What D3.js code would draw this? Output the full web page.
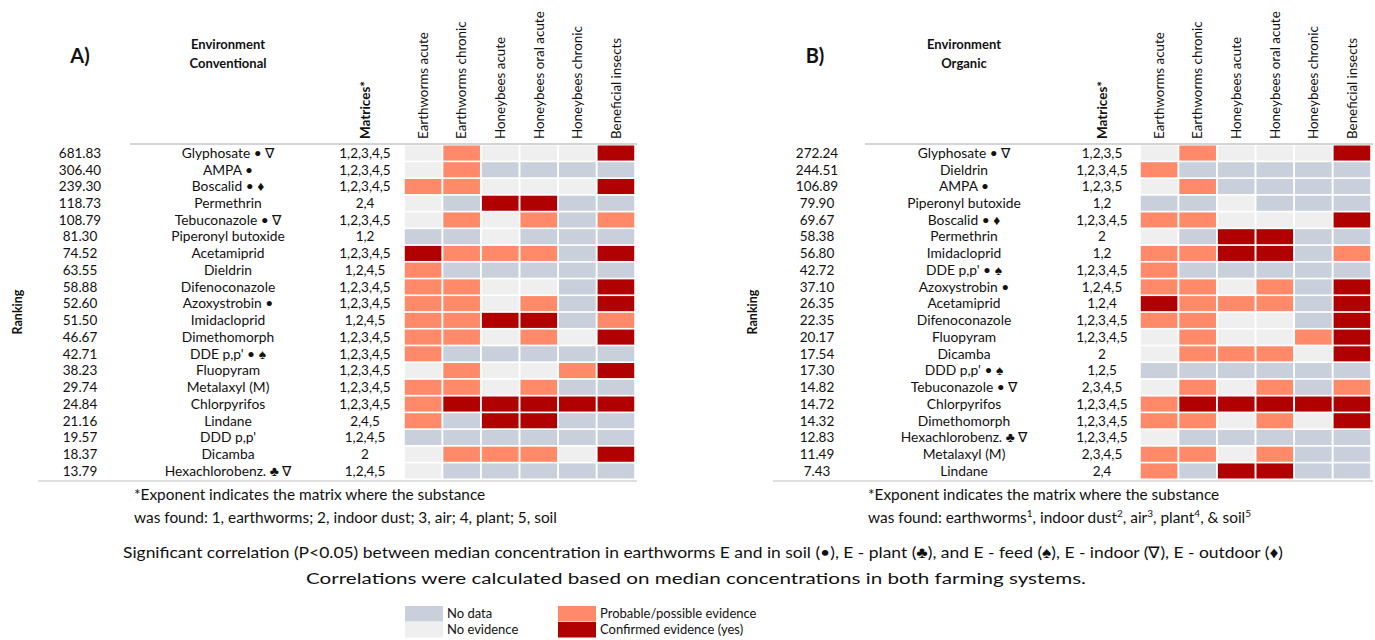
<!DOCTYPE html>
<html><head><meta charset="utf-8">
<script src="https://cdn.jsdelivr.net/npm/d3@7"></script>
<style>body{margin:0;background:#fff}svg{display:block}text{font-family:Lato,"Open Sans",sans-serif;fill:#111}</style>
</head><body>
<svg id="chart" width="1375" height="640"></svg>
<script>
const columns = ["Earthworms acute","Earthworms chronic","Honeybees acute","Honeybees oral acute","Honeybees chronic","Beneficial insects"];

const rankA = [681.83,306.40,239.30,118.73,108.79,81.30,74.52,63.55,58.88,52.60,51.50,46.67,42.71,38.23,29.74,24.84,21.16,19.57,18.37,13.79];
const namesA = ["Glyphosate • ∇","AMPA •","Boscalid • ♦","Permethrin","Tebuconazole • ∇","Piperonyl butoxide","Acetamiprid","Dieldrin","Difenoconazole","Azoxystrobin •","Imidacloprid","Dimethomorph","DDE p,p' • ♠","Fluopyram","Metalaxyl (M)","Chlorpyrifos","Lindane","DDD p,p'","Dicamba","Hexachlorobenz. ♣ ∇"];
const matricesA = ["1,2,3,4,5","1,2,3,4,5","1,2,3,4,5","2,4","1,2,3,4,5","1,2","1,2,3,4,5","1,2,4,5","1,2,3,4,5","1,2,3,4,5","1,2,4,5","1,2,3,4,5","1,2,3,4,5","1,2,3,4,5","1,2,3,4,5","1,2,3,4,5","2,4,5","1,2,4,5","2","1,2,4,5"];
// N = no evidence, D = no data, P = probable/possible, C = confirmed
const evidenceA = ["NPNNNC","NPDDDD","PPNNNC","NDCCDD","NPNPDP","DDNDDD","CPPPDC","PDDDDD","PPNNDC","PPNPDC","PPCCDP","PPNPNC","PDDDDD","NPNNPC","PPNPDD","PCCCCC","PDCCDD","DDDDDD","NPPPNC","NDDDDD"];

const rankB = [272.24,244.51,106.89,79.90,69.67,58.38,56.80,42.72,37.10,26.35,22.35,20.17,17.54,17.30,14.82,14.72,14.32,12.83,11.49,7.43];
const namesB = ["Glyphosate • ∇","Dieldrin","AMPA •","Piperonyl butoxide","Boscalid • ♦","Permethrin","Imidacloprid","DDE p,p' • ♠","Azoxystrobin •","Acetamiprid","Difenoconazole","Fluopyram","Dicamba","DDD p,p' • ♠","Tebuconazole • ∇","Chlorpyrifos","Dimethomorph","Hexachlorobenz. ♣ ∇","Metalaxyl (M)","Lindane"];
const matricesB = ["1,2,3,5","1,2,3,4,5","1,2,3,5","1,2","1,2,3,4,5","2","1,2","1,2,3,4,5","1,2,4,5","1,2,4","1,2,3,4,5","1,2,3,4,5","2","1,2,5","2,3,4,5","1,2,3,4,5","1,2,3,4,5","1,2,3,4,5","2,3,4,5","2,4"];
const evidenceB = ["NPNNNC","PDDDDD","NPDDDD","DDNDDD","PPNNNC","NDCCDD","PPCCDP","PDDDDD","PPNPDC","CPPPDC","PPNNDC","NPNNPC","NPPPNC","DDDDDD","NPNPDP","PCCCCC","PPNPNC","NDDDDD","PPNPDD","PDCCDD"];

const legendCodes = ["D","N","P","C"];
const legendLabels = ["No data","No evidence","Probable/possible evidence","Confirmed evidence (yes)"];

const color = d3.scaleOrdinal().domain(["D","N","P","C"]).range(["#c9d0dc","#efefef","#ff8a6a","#b00000"]);

const svg = d3.select("#chart");

function panel(cfg){
  const g = svg.append("g");
  const n = cfg.names.length;
  const x = d3.scaleBand().domain(columns).range([cfg.gx0, cfg.gx1]).paddingInner(0.05).paddingOuter(0.02);
  const y = d3.scaleBand().domain(d3.range(n)).range([cfg.gy0, cfg.gy1]).paddingInner(0.1).paddingOuter(0.03);

  // title
  g.append("text").attr("x",cfg.labelX).attr("y",63).attr("text-anchor","middle")
    .style("font-size","20px").style("font-weight","bold").text(cfg.label);
  g.append("text").attr("x",cfg.nameX).attr("y",49).attr("text-anchor","middle")
    .style("font-size","13px").style("font-weight","bold").text("Environment");
  g.append("text").attr("x",cfg.nameX).attr("y",68).attr("text-anchor","middle")
    .style("font-size","13px").style("font-weight","bold").text(cfg.system);
  g.append("text").attr("transform",`translate(${cfg.matX+5},139) rotate(-90)`)
    .style("font-size","13.5px").style("font-weight","bold").text("Matrices*");
  // column headers
  g.selectAll(".colh").data(columns).join("text")
    .attr("transform",d=>`translate(${x(d)+x.bandwidth()/2+4.8},139) rotate(-90)`)
    .style("font-size","13.4px").text(d=>d);
  // Ranking
  g.append("text").attr("transform",`translate(${cfg.rankingX},${(cfg.gy0+cfg.gy1)/2}) rotate(-90)`)
    .attr("text-anchor","middle").style("font-size","12.5px").style("font-weight","bold").text("Ranking");

  // lines
  g.append("line").attr("x1",cfg.topLineX).attr("x2",cfg.gx1+2).attr("y1",cfg.gy0-1).attr("y2",cfg.gy0-1)
    .attr("stroke","#d4d4d4").attr("stroke-width",2);
  g.append("line").attr("x1",cfg.botLineX).attr("x2",cfg.gx1+2).attr("y1",cfg.gy1+2).attr("y2",cfg.gy1+2)
    .attr("stroke","#d4d4d4").attr("stroke-width",1.5);

  // rows
  const rows = d3.range(n);
  const ty = i => y(i)+y.bandwidth()/2+4.8;
  g.selectAll(".rk").data(rows).join("text").attr("x",cfg.rankX).attr("y",ty)
    .attr("text-anchor","middle").style("font-size","13.5px").text(i=>cfg.ranks[i].toFixed(2));
  g.selectAll(".nm").data(rows).join("text").attr("x",cfg.nameX).attr("y",ty)
    .attr("text-anchor","middle").style("font-size","13.8px").text(i=>cfg.names[i]);
  g.selectAll(".mx").data(rows).join("text").attr("x",cfg.matX).attr("y",ty)
    .attr("text-anchor","middle").style("font-size","13.5px").text(i=>cfg.matrices[i]);

  // cells
  const cells = [];
  rows.forEach(i=>columns.forEach((c,j)=>cells.push({i,c,v:cfg.evidence[i][j]})));
  g.selectAll(".cell").data(cells).join("rect")
    .attr("x",d=>x(d.c)).attr("y",d=>y(d.i)).attr("width",x.bandwidth()).attr("height",y.bandwidth())
    .attr("fill",d=>color(d.v));

  // footnote
  g.append("text").attr("x",cfg.footX).attr("y",500).style("font-size","15.4px")
    .text("*Exponent indicates the matrix where the substance");
  const f2 = g.append("text").attr("x",cfg.footX).attr("y",523).style("font-size","15.4px");
  cfg.foot2(f2);
}

panel({label:"A)", system:"Conventional", labelX:80, nameX:228, matX:365, rankX:80, rankingX:22,
  gx0:404, gx1:635, gy0:145, gy1:479, topLineX:130, botLineX:38, footX:134,
  ranks:rankA, names:namesA, matrices:matricesA, evidence:evidenceA,
  foot2: t=>t.text("was found: 1, earthworms; 2, indoor dust; 3, air; 4, plant; 5, soil")});

panel({label:"B)", system:"Organic", labelX:815, nameX:964, matX:1102, rankX:817, rankingX:757,
  gx0:1140, gx1:1371, gy0:145, gy1:479, topLineX:865, botLineX:773, footX:868,
  ranks:rankB, names:namesB, matrices:matricesB, evidence:evidenceB,
  foot2: t=>{
    const parts = [["was found: earthworms",""],["1","s"],[", indoor dust",""],["2","s"],[", air",""],["3","s"],[", plant",""],["4","s"],[", & soil",""],["5","s"]];
    parts.forEach(p=>{
      const ts = t.append("tspan").text(p[0]);
      if(p[1]==="s"){ ts.attr("dy",-6).style("font-size","10px"); }
      else if(t.selectAll("tspan").size()>1){ ts.attr("dy",6); }
    });
  }});

// bottom notes
svg.append("text").attr("x",703).attr("y",558).attr("text-anchor","middle")
  .attr("textLength",1160).attr("lengthAdjust","spacingAndGlyphs").style("font-size","16px")
  .text("Significant correlation (P<0.05) between median concentration in earthworms E and in soil (•), E - plant (♣),  and E - feed (♠), E - indoor (∇), E - outdoor (♦)");
svg.append("text").attr("x",696).attr("y",584).attr("text-anchor","middle")
  .attr("textLength",780).attr("lengthAdjust","spacingAndGlyphs").style("font-size","16px")
  .text("Correlations were calculated based on median concentrations in both farming systems.");

// legend
const lg = svg.append("g");
const lx = [405,405,558,558], ly = [606,622,606,622];
lg.selectAll("rect").data(legendCodes).join("rect")
  .attr("x",(d,i)=>lx[i]).attr("y",(d,i)=>ly[i]).attr("width",38).attr("height",15.5).attr("fill",d=>color(d));
lg.selectAll("text").data(legendLabels).join("text")
  .attr("x",(d,i)=>lx[i]+42).attr("y",(d,i)=>ly[i]+12).style("font-size","13px").text(d=>d);
</script>
</body></html>
